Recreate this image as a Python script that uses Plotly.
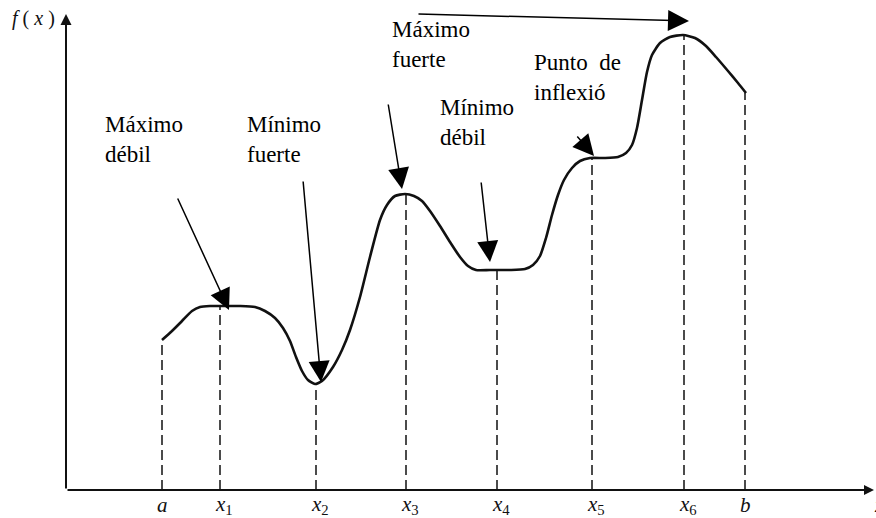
import plotly.graph_objects as go

# ---- data (units: origin at the axes corner) ----
curve_x = [96, 106, 116, 126, 134, 144, 154, 174, 189, 199, 209, 217, 224, 230, 236, 242, 249, 256,
           267, 276, 284, 294, 304, 314, 321, 329, 339, 348, 356, 364, 374, 384, 394, 402, 410, 424,
           444, 459, 467, 474, 480, 486, 492, 498, 506, 514, 524, 539, 552, 560, 566, 571, 576, 581,
           586, 594, 604, 617, 629, 640, 650, 662, 672, 680]
curve_y = [150, 159, 169, 179, 183, 184, 184, 184, 183, 179, 172, 162, 149, 133, 119, 110, 106, 109,
           123, 140, 160, 193, 233, 270, 285, 294, 296, 294, 289, 279, 264, 248, 233, 224, 220, 220,
           220, 221, 225, 234, 252, 275, 295, 310, 322, 329, 332, 332, 333, 337, 345, 362, 390, 418,
           435, 447, 453, 455, 452, 444, 433, 419, 407, 397]

tick_labels = ["<i>a</i>", "<i>x</i><sub>1</sub>", "<i>x</i><sub>2</sub>", "<i>x</i><sub>3</sub>",
               "<i>x</i><sub>4</sub>", "<i>x</i><sub>5</sub>", "<i>x</i><sub>6</sub>", "<i>b</i>"]
tick_x = [96, 154, 250, 340, 431, 526, 618, 679]
tick_f = [150, 184, 106, 296, 220, 332, 455, 397]

notes = ["Máximo<br>débil", "Mínimo<br>fuerte", "Máximo<br>fuerte", "Mínimo<br>débil", "Punto  de<br>inflexió"]
note_x = [37, 179, 324, 372, 466]
note_y = [351, 351, 446, 368, 413]

# arrows: tail (ax, ay) -> tip (x, y)
arr_ax = [111, 237, 322, 415, 510, 351]
arr_ay = [293, 310, 387, 309, 355, 476]
arr_x = [163, 255, 336, 424, 528, 623]
arr_y = [180, 108, 301, 228, 334, 469]

# ---- figure ----
INK = "#111111"
SERIF = "Liberation Serif, Times New Roman, serif"
fig = go.Figure()

for xi, fi in zip(tick_x, tick_f):
    fig.add_trace(go.Scatter(x=[xi, xi], y=[0, fi], mode="lines",
                             line=dict(color=INK, width=1.5, dash="10px,5px"),
                             hoverinfo="skip", showlegend=False))

fig.add_trace(go.Scatter(x=curve_x, y=curve_y, mode="lines",
                         line=dict(color=INK, width=2.6, shape="spline", smoothing=0.6),
                         hoverinfo="skip", showlegend=False))

ann = []
# axes with arrowheads
ann.append(dict(x=0, y=476, ax=0, ay=0, xref="x", yref="y", axref="x", ayref="y", text="",
                showarrow=True, arrowhead=2, arrowsize=1.1, arrowwidth=2, arrowcolor=INK))
ann.append(dict(x=808, y=0, ax=0, ay=0, xref="x", yref="y", axref="x", ayref="y", text="",
                showarrow=True, arrowhead=2, arrowsize=1.0, arrowwidth=2, arrowcolor=INK))

for t, xi in zip(tick_labels, tick_x):
    off = 0 if "sub" not in t else 4
    ann.append(dict(x=xi + off, y=-15, xref="x", yref="y", text=t, showarrow=False,
                    xanchor="center", yanchor="middle",
                    font=dict(family=SERIF, size=21, color=INK)))

ann.append(dict(x=-33, y=472, xref="x", yref="y", text="<i>f</i> ( <i>x</i> )", showarrow=False,
                xanchor="center", yanchor="middle", font=dict(family=SERIF, size=20, color=INK)))
ann.append(dict(x=806, y=-15, xref="x", yref="y", text="<i>x</i>", showarrow=False,
                xanchor="left", yanchor="middle", font=dict(family=SERIF, size=20, color=INK)))

for t, xx, yy in zip(notes, note_x, note_y):
    ann.append(dict(x=xx, y=yy, xref="x", yref="y", text=t, showarrow=False, align="left",
                    xanchor="left", yanchor="middle", font=dict(family=SERIF, size=23, color="#000")))

for ax_, ay_, x_, y_ in zip(arr_ax, arr_ay, arr_x, arr_y):
    ann.append(dict(x=x_, y=y_, ax=ax_, ay=ay_, xref="x", yref="y", axref="x", ayref="y", text="",
                    showarrow=True, arrowhead=2, arrowsize=2.8, arrowwidth=1.5, arrowcolor="#000"))

fig.update_layout(
    width=876, height=518,
    margin=dict(l=0, r=0, t=0, b=0),
    paper_bgcolor="white", plot_bgcolor="white",
    xaxis=dict(range=[-66, 810], visible=False, fixedrange=True),
    yaxis=dict(range=[-28, 490], visible=False, fixedrange=True),
    annotations=ann,
    showlegend=False,
)

fig.write_html("out.html", config={"displayModeBar": False},
               post_script="document.body.style.margin='0';document.body.style.overflow='hidden';")
